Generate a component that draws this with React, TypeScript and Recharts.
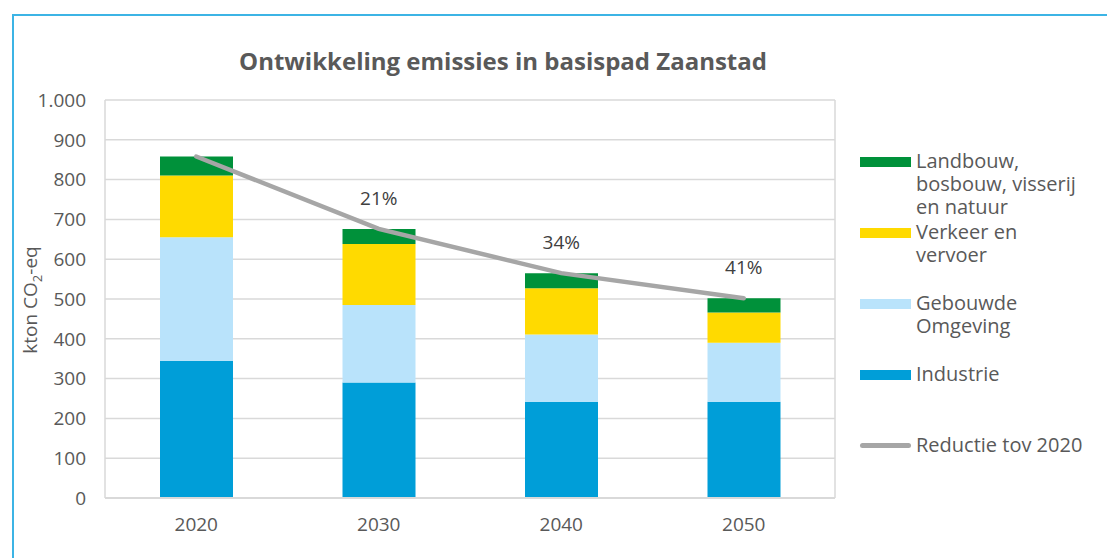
import React from 'react';
import { ComposedChart, Bar, Line, XAxis, YAxis, CartesianGrid, LabelList } from 'recharts';

const years = ['2020', '2030', '2040', '2050'];
const industrie = [345, 290, 242, 242];
const gebouwdeOmgeving = [310, 195, 169, 148];
const verkeerVervoer = [155, 153, 116, 76];
const landbouw = [48, 38, 38, 36];
const reductieTotaal = [858, 676, 565, 502];
const reductieLabels = ['', '21%', '34%', '41%'];
const yTicks = [0, 100, 200, 300, 400, 500, 600, 700, 800, 900, 1000];

const title = 'Ontwikkeling emissies in basispad Zaanstad';

const legendItems = [
  { lines: ['Landbouw,', 'bosbouw, visserij', 'en natuur'], color: '#00913A', type: 'bar' },
  { lines: ['Verkeer en', 'vervoer'], color: '#FFDA00', type: 'bar' },
  { lines: ['Gebouwde', 'Omgeving'], color: '#B9E3FB', type: 'bar' },
  { lines: ['Industrie'], color: '#009ED8', type: 'bar' },
  { lines: ['Reductie tov 2020'], color: '#A6A6A6', type: 'line' },
];

const data = years.map((y, i) => ({
  year: y,
  industrie: industrie[i],
  gebouwde: gebouwdeOmgeving[i],
  verkeer: verkeerVervoer[i],
  landbouw: landbouw[i],
  reductie: reductieTotaal[i],
  label: reductieLabels[i],
}));

const FONT = '"Open Sans", "DejaVu Sans", sans-serif';
const TEXT = '#595959';

const fmt = (v: number) => (v >= 1000 ? `${Math.floor(v / 1000)}.${String(v % 1000).padStart(3, '0')}` : String(v));

const LegendBox = () => (
  <div
    style={{
      position: 'absolute',
      left: 860,
      top: 148,
      width: 247,
      height: 320,
      fontFamily: FONT,
      fontSize: 20,
      color: TEXT,
    }}
  >
    {legendItems.map((it, i) => (
      <div key={i} style={{ position: 'absolute', left: 0, top: i * 71, display: 'flex', alignItems: 'flex-start' }}>
        <div
          style={{
            width: 51,
            height: it.type === 'line' ? 5 : 10,
            marginTop: it.type === 'line' ? 11 : 9,
            background: it.color,
            borderRadius: it.type === 'line' ? 3 : 0,
            marginRight: 5,
            flex: 'none',
          }}
        />
        <div style={{ lineHeight: '23px', whiteSpace: 'nowrap', marginTop: 1 }}>
          {it.lines.map((l, j) => (
            <div key={j}>{l}</div>
          ))}
        </div>
      </div>
    ))}
  </div>
);

const YLabel = () => (
  <text
    transform="translate(37, 300) rotate(-90)"
    textAnchor="middle"
    fill={TEXT}
    fontFamily={FONT}
    fontSize={19}
  >
    kton CO
    <tspan fontSize={13} dy={5}>2</tspan>
    <tspan dy={-5}>-eq</tspan>
  </text>
);

const PctLabel = (props: any) => {
  const { x, y, value } = props;
  if (!value) return null;
  return (
    <text x={x} y={y - 24} textAnchor="middle" fill="#404040" fontFamily={FONT} fontSize={19}>
      {value}
    </text>
  );
};

export default function App() {
  return (
    <div style={{ position: 'absolute', left: 0, top: 0, width: 1107, height: 558, background: '#fff' }}>
      <div
        style={{
          position: 'absolute',
          left: 12,
          top: 14,
          right: 0,
          bottom: 0,
          borderTop: '2px solid #3CB4E5',
          borderLeft: '2px solid #3CB4E5',
        }}
      />
      <ComposedChart
        width={1107}
        height={558}
        data={data}
        margin={{ top: 100, right: 272, bottom: 30, left: 0 }}
        barCategoryGap="30%"
        style={{ position: 'absolute', left: 0, top: 0 }}
      >
        <text x={503} y={70} textAnchor="middle" fill={TEXT} fontFamily={FONT} fontSize={24} fontWeight="bold">
          {title}
        </text>
        <CartesianGrid
          stroke="#D9D9D9"
          strokeWidth={1.5}
          verticalCoordinatesGenerator={({ offset }: any) => [offset.left, offset.left + offset.width]}
        />
        <XAxis
          dataKey="year"
          axisLine={{ stroke: '#D9D9D9', strokeWidth: 2 }}
          tickLine={false}
          tick={{ fill: TEXT, fontFamily: FONT, fontSize: 19 }}
          tickMargin={14}
          height={30}
        />
        <YAxis
          width={105}
          domain={[0, 1000]}
          ticks={yTicks}
          tickFormatter={fmt}
          axisLine={false}
          tickLine={false}
          tickSize={0}
          tickMargin={19}
          tick={{ fill: TEXT, fontFamily: FONT, fontSize: 19 }}
          label={<YLabel />}
        />
        <Bar dataKey="industrie" stackId="a" fill="#009ED8" barSize={73} isAnimationActive={false} />
        <Bar dataKey="gebouwde" stackId="a" fill="#B9E3FB" barSize={73} isAnimationActive={false} />
        <Bar dataKey="verkeer" stackId="a" fill="#FFDA00" barSize={73} isAnimationActive={false} />
        <Bar dataKey="landbouw" stackId="a" fill="#00913A" barSize={73} isAnimationActive={false} />
        <Line
          dataKey="reductie"
          stroke="#A6A6A6"
          strokeWidth={4.5}
          strokeLinecap="round"
          dot={false}
          activeDot={false}
          isAnimationActive={false}
        >
          <LabelList dataKey="label" content={<PctLabel />} />
        </Line>
      </ComposedChart>
      <LegendBox />
    </div>
  );
}
